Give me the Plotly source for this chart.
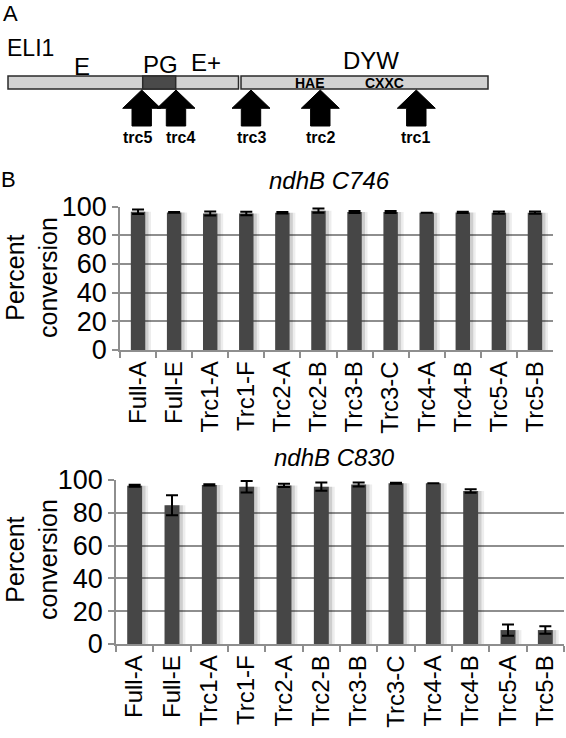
import plotly.graph_objects as go

# ---------------- data ----------------
categories = ["Full-A", "Full-E", "Trc1-A", "Trc1-F", "Trc2-A", "Trc2-B",
              "Trc3-B", "Trc3-C", "Trc4-A", "Trc4-B", "Trc5-A", "Trc5-B"]

c746_values = [96.5, 96.0, 95.3, 95.3, 95.8, 97.2, 96.3, 96.3, 95.8, 96.0, 95.8, 95.8]
c746_errors = [1.6, 0.3, 1.4, 1.2, 0.5, 1.5, 0.7, 0.7, 0.0, 0.4, 0.8, 0.8]

c830_values = [96.5, 84.6, 97.0, 95.9, 96.7, 95.9, 97.2, 98.0, 98.0, 93.3, 8.5, 8.5]
c830_errors = [0.6, 6.1, 0.4, 3.5, 1.0, 2.5, 1.2, 0.3, 0.0, 1.1, 3.4, 2.3]

y_ticks = [0, 20, 40, 60, 80, 100]

# protein diagram (A)
domain_labels = ["E", "PG", "E+", "DYW"]
motif_labels = ["HAE", "CXXC"]
truncations = ["trc1", "trc2", "trc3", "trc4", "trc5"]

# ---------------- geometry helpers ----------------
W, H = 566, 738
FONT = "Liberation Sans, Arial, sans-serif"
BAR = "#464646"
GRID = "#8e8e8e"


def px(x):
    return x / W


def py(y):
    return 1 - y / H


fig = go.Figure()


def add_panel(values, errors, xa, ya):
    # soft shadow layers
    fig.add_trace(go.Bar(x=categories, y=values, xaxis=xa, yaxis=ya,
                         width=0.5, offset=-0.14,
                         marker=dict(color="rgba(0,0,0,0.07)", line=dict(width=0)),
                         hoverinfo="skip", showlegend=False))
    fig.add_trace(go.Bar(x=categories, y=values, xaxis=xa, yaxis=ya,
                         width=0.45, offset=-0.16,
                         marker=dict(color="rgba(0,0,0,0.13)", line=dict(width=0)),
                         hoverinfo="skip", showlegend=False))
    fig.add_trace(go.Bar(x=categories, y=values, xaxis=xa, yaxis=ya,
                         width=0.4, offset=-0.2,
                         marker=dict(color=BAR, line=dict(width=0)),
                         error_y=dict(type="data", array=errors, visible=True,
                                      color="black", thickness=2, width=6),
                         showlegend=False))


add_panel(c746_values, c746_errors, "x", "y")
add_panel(c830_values, c830_errors, "x2", "y2")

xax = dict(type="category", tickson="boundaries", ticks="outside", ticklen=6,
           tickcolor=GRID, tickwidth=1.5, showline=True, linecolor=GRID,
           linewidth=1.5, tickangle=-90, showgrid=False, automargin=False,
           tickfont=dict(family=FONT, size=24, color="black"))
yax = dict(range=[0, 100], tickvals=y_ticks, showgrid=True, gridcolor=GRID,
           gridwidth=1.5, ticks="outside", ticklen=6, tickcolor=GRID,
           tickwidth=1.5, showline=True, linecolor=GRID, linewidth=1.5,
           zeroline=False, automargin=False,
           tickfont=dict(family=FONT, size=27, color="black"))

fig.update_layout(
    width=W, height=H, margin=dict(l=0, r=0, t=0, b=0, pad=0, autoexpand=False),
    paper_bgcolor="white", plot_bgcolor="rgba(0,0,0,0)",
    barmode="overlay", showlegend=False,
    xaxis=dict(xax, domain=[px(120), px(553)], anchor="y"),
    yaxis=dict(yax, domain=[py(350), py(206.7)], anchor="x"),
    xaxis2=dict(xax, domain=[px(116), px(564)], anchor="y2"),
    yaxis2=dict(yax, domain=[py(644), py(480)], anchor="x2"),
)

ann = []


def text(t, x, y, size, bold=False, italic=False, xanchor="center", angle=0):
    s = t
    if bold:
        s = "<b>" + s + "</b>"
    if italic:
        s = "<i>" + s + "</i>"
    ann.append(dict(text=s, x=px(x), y=py(y), xref="paper", yref="paper",
                    xanchor=xanchor, yanchor="middle", showarrow=False,
                    textangle=angle,
                    font=dict(family=FONT, size=size, color="black")))


# panel letters and titles
text("A", 10, 14, 22)
text("B", 8, 179, 22)
text("ndhB C746", 329, 181, 24, italic=True)
text("ndhB C830", 334, 457, 24, italic=True)
text("Percent<br>conversion", 32, 278, 25, angle=-90)
text("Percent<br>conversion", 31, 560, 25, angle=-90)

# protein diagram
shapes = []
seg_fill = "#d2d2d2"
seg_line = "#2a2a2a"


def rect(x0, x1, y0, y1, fill):
    shapes.append(dict(type="rect", xref="paper", yref="paper",
                       x0=px(x0), x1=px(x1), y0=py(y1), y1=py(y0),
                       fillcolor=fill, line=dict(color=seg_line, width=1.5)))


rect(8, 238.5, 76, 89, seg_fill)
rect(241, 488, 76, 89, seg_fill)
rect(142.7, 175.7, 76, 89, "#4a4a4a")

text("ELI1", 30, 48, 23)
domain_pos = [(82, 66), (160, 65), (206, 63), (371, 61)]
for lab, (x, y) in zip(domain_labels, domain_pos):
    text(lab, x, y, 24)
motif_pos = [(310, 83), (384, 83)]
for lab, (x, y) in zip(motif_labels, motif_pos):
    text(lab, x, y, 14, bold=True)

arrow_x = [416.3, 320.3, 251, 176, 141.7]
label_x = [415, 320, 251, 180, 137]
for name, ax, lx in zip(truncations, arrow_x, label_x):
    tip, base, bottom, hw, sw = 90, 108.3, 126, 19, 9.7
    path = (f"M {px(ax)},{py(tip)} L {px(ax + hw)},{py(base)} "
            f"L {px(ax + sw)},{py(base)} L {px(ax + sw)},{py(bottom)} "
            f"L {px(ax - sw)},{py(bottom)} L {px(ax - sw)},{py(base)} "
            f"L {px(ax - hw)},{py(base)} Z")
    shapes.append(dict(type="path", xref="paper", yref="paper", path=path,
                       fillcolor="black", line=dict(color="black", width=1)))
    text(name, lx, 137, 16, bold=True)

fig.update_layout(annotations=ann, shapes=shapes)
fig.write_html(
    "out.html",
    config={"displayModeBar": False},
    post_script="document.body.style.margin='0';document.body.style.overflow='hidden';",
)
